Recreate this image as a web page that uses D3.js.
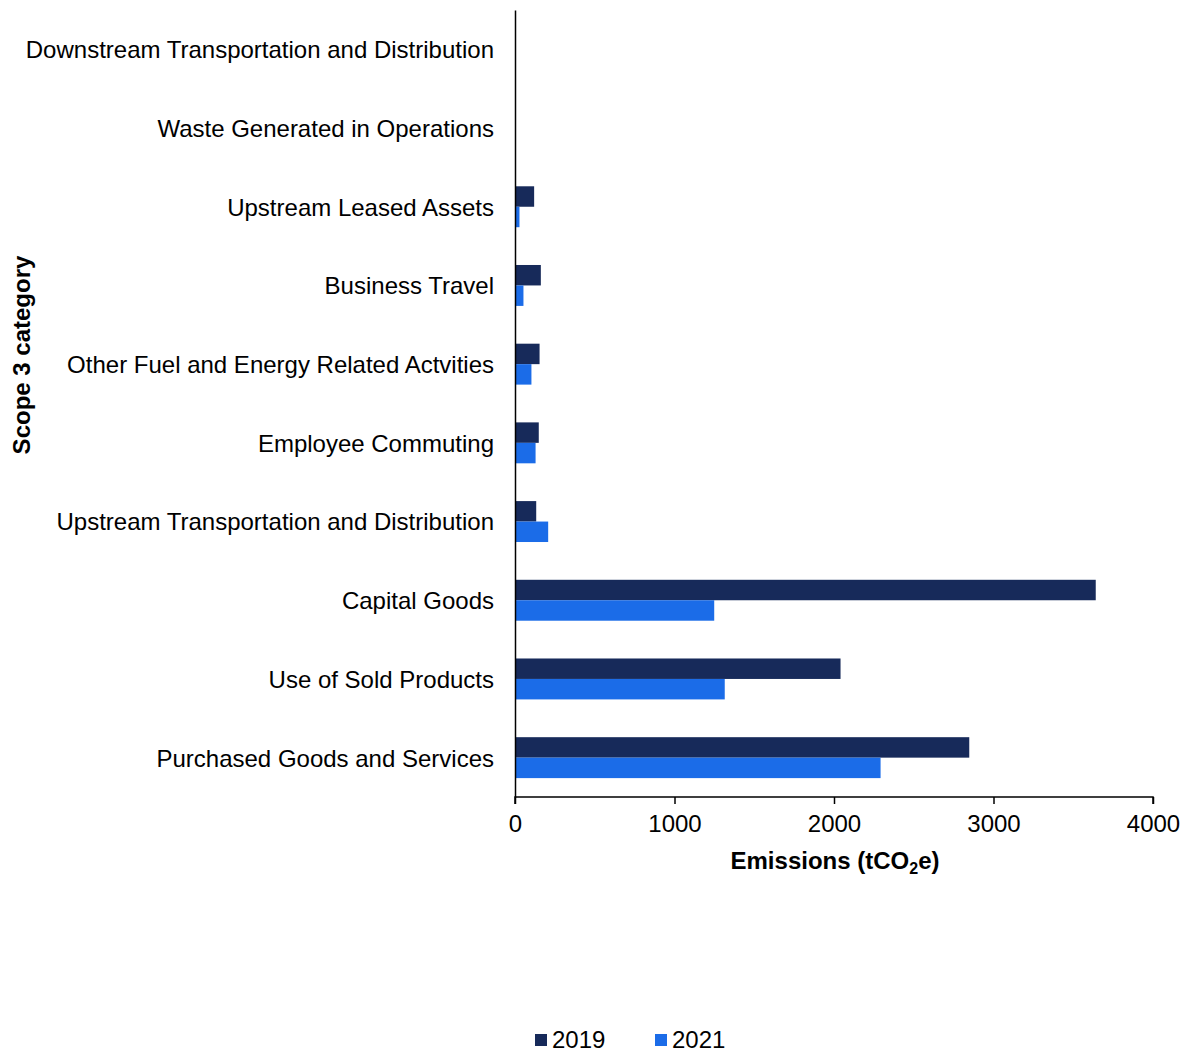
<!DOCTYPE html>
<html>
<head>
<meta charset="utf-8">
<script src="https://cdn.jsdelivr.net/npm/d3@7"></script>
<style>
  html, body { margin: 0; padding: 0; background: #ffffff; }
  svg { display: block; font-family: "Liberation Sans", Arial, sans-serif; }
</style>
</head>
<body>
<svg id="chart" width="1189" height="1052"></svg>
<script>
// Scope 3 categories, listed bottom to top as drawn
const categories = [
  "Purchased Goods and Services",
  "Use of Sold Products",
  "Capital Goods",
  "Upstream Transportation and Distribution",
  "Employee Commuting",
  "Other Fuel and Energy Related Actvities",
  "Business Travel",
  "Upstream Leased Assets",
  "Waste Generated in Operations",
  "Downstream Transportation and Distribution"
];
const years = ["2019", "2021"];
const values2019 = [2848, 2041, 3641, 133, 149, 154, 162, 120, 0, 0];
const values2021 = [2292, 1315, 1249, 208, 129, 103, 53, 28, 0, 0];
const xTicks = [0, 1000, 2000, 3000, 4000];
const colors = ["#172a5a", "#1b6ce8"];

const FS = 24;
const svg = d3.select("#chart");
const margin = { left: 515, right: 36, top: 10, bottom: 255 };
const W = 1189, H = 1052;

const x = d3.scaleLinear().domain([0, 4000]).range([margin.left, W - margin.right]);
const y = d3.scaleBand()
  .domain(categories)
  .range([H - margin.bottom, margin.top])
  .paddingInner(0.48).paddingOuter(0.24);
const ySub = d3.scaleBand().domain(years).range([0, y.bandwidth()]);

const rows = categories.map((c, i) => ({ cat: c, vals: [values2019[i], values2021[i]] }));

const g = svg.append("g");
const groups = g.selectAll("g.cat").data(rows).join("g")
  .attr("class", "cat")
  .attr("transform", d => `translate(0,${y(d.cat)})`);

groups.selectAll("rect").data(d => d.vals.map((v, k) => ({ year: years[k], v, k })))
  .join("rect")
  .filter(d => d.v > 0)
  .attr("x", x(0))
  .attr("y", d => ySub(d.year))
  .attr("width", d => x(d.v) - x(0))
  .attr("height", ySub.bandwidth())
  .attr("fill", d => colors[d.k]);

// Bottom axis
const xAxis = svg.append("g")
  .attr("transform", `translate(0,${H - margin.bottom})`)
  .call(d3.axisBottom(x).tickValues(xTicks).tickSize(7).tickPadding(11).tickFormat(d3.format("d")));
xAxis.select(".domain").attr("stroke", "#000").attr("stroke-width", 1.5)
  .attr("d", `M${x(0)},7V0H${x(4000)}V7`);
xAxis.selectAll(".tick line").attr("stroke", "#000").attr("stroke-width", 1.5);
xAxis.selectAll(".tick text").attr("font-size", FS).attr("fill", "#000")
  .attr("font-family", "'Liberation Sans', Arial, sans-serif");

// Left axis (line + category labels, no ticks)
const yAxis = svg.append("g")
  .attr("transform", `translate(${x(0)},0)`)
  .call(d3.axisLeft(y).tickSize(0).tickPadding(21));
yAxis.select(".domain").attr("stroke", "#000").attr("stroke-width", 1.5);
yAxis.selectAll(".tick text").attr("font-size", FS).attr("fill", "#000")
  .attr("dy", "0.37em")
  .attr("font-family", "'Liberation Sans', Arial, sans-serif");

// Axis titles
const xt = svg.append("text")
  .attr("x", 835).attr("y", 869)
  .attr("text-anchor", "middle")
  .attr("font-size", FS).attr("font-weight", "bold").attr("fill", "#000");
xt.append("tspan").text("Emissions (tCO");
xt.append("tspan").attr("font-size", 16).attr("dy", 5).text("2");
xt.append("tspan").attr("dy", -5).text("e)");

svg.append("text")
  .attr("transform", `translate(30,355) rotate(-90)`)
  .attr("text-anchor", "middle")
  .attr("font-size", FS).attr("font-weight", "bold").attr("fill", "#000")
  .text("Scope 3 category");

// Legend
const legend = svg.append("g");
const legendX = [535, 655];
years.forEach((yr, k) => {
  legend.append("rect")
    .attr("x", legendX[k]).attr("y", 1034)
    .attr("width", 12).attr("height", 12)
    .attr("fill", colors[k]);
  legend.append("text")
    .attr("x", legendX[k] + 17).attr("y", 1048)
    .attr("font-size", FS).attr("fill", "#000")
    .text(yr);
});
</script>
</body>
</html>
